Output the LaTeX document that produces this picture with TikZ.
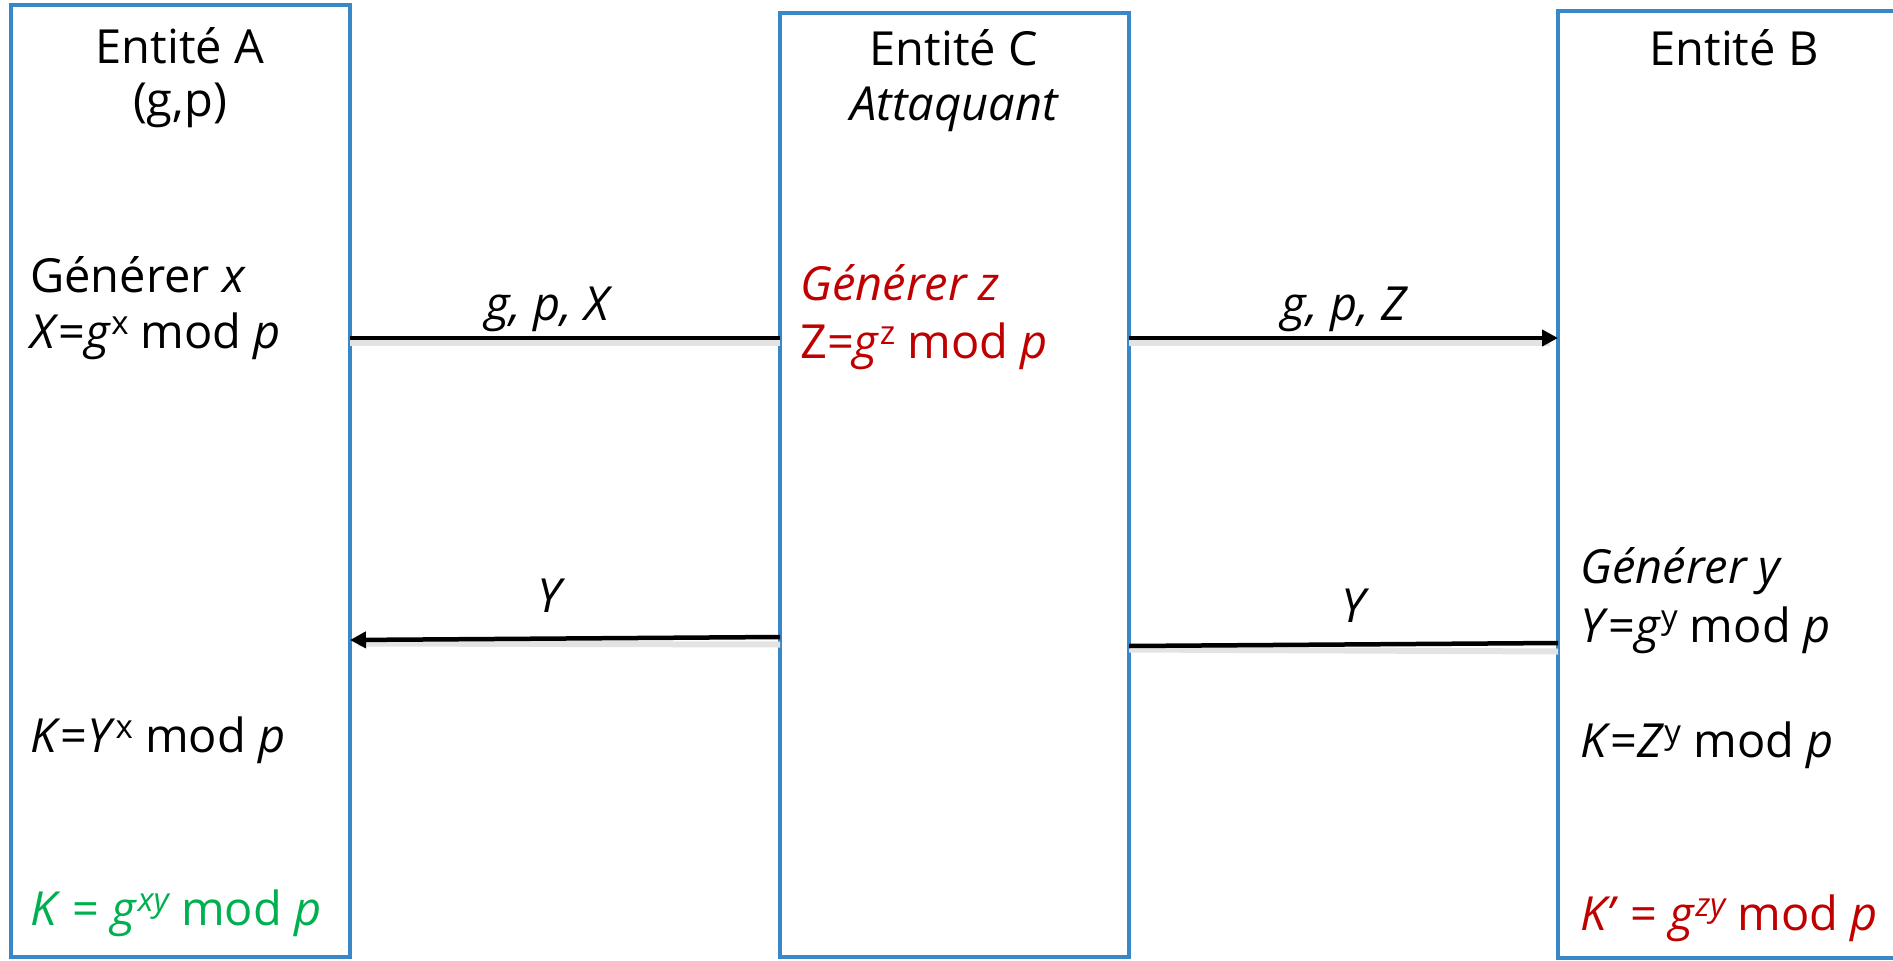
\documentclass[tikz,border=0pt]{standalone}
\usepackage{fontspec}
\setmainfont{Open Sans}
\usetikzlibrary{arrows.meta}
\definecolor{boxblue}{RGB}{58,135,200}
\definecolor{attred}{RGB}{192,0,0}
\definecolor{keygreen}{RGB}{0,176,80}
\tikzset{
  ent/.style={draw=boxblue, line width=4pt, rectangle, inner sep=0pt, outer sep=0pt},
  txt/.style={font=\fontsize{47}{56}\selectfont, inner sep=0pt, anchor=base west},
  ctxt/.style={font=\fontsize{47}{56}\selectfont, inner sep=0pt, anchor=base},
  msg/.style={line width=4.5pt, black},
  shadow/.style={line width=6pt, gray!22},
  tip/.style={-{Triangle[length=16pt,width=16pt]}}
}
\newcommand{\sups}[1]{\raisebox{0.55ex}{\fontsize{33}{33}\selectfont #1}}
\begin{document}
\begin{tikzpicture}[x=1pt,y=-1pt]
\useasboundingbox (0,0) rectangle (1893,961);
% boxes
\node[ent, minimum width=339pt, minimum height=952pt] (A) at (180.5,481) {};
\node[ent, minimum width=349pt, minimum height=944pt] (C) at (954.5,485) {};
\node[ent, minimum width=352pt, minimum height=947pt] (B) at (1734,484.5) {};
% helper levels
\coordinate (m1) at (0,338);
\coordinate (m2) at (0,638.5);
\coordinate (m3) at (0,644.5);
% titles
\node[ctxt] (tA1) at (180,63) {Entité A};
\node[ctxt] (tA2) at (180,116) {(g,p)};
\node[ctxt] (tC1) at (954,65) {Entité C};
\node[ctxt] (tC2) at (954,120) {\itshape Attaquant};
\node[ctxt] (tB1) at (1734,65) {Entité B};
% A texts
\node[txt] (a1) at (30,292) {Générer \textit{x}};
\node[txt] (a2) at (30,348) {\textit{X}=\textit{g}\sups{x} mod \textit{p}};
\node[txt] (a3) at (30,752) {\textit{K}=\textit{Y}\sups{x} mod \textit{p}};
\node[txt, text=keygreen] (a4) at (30,925) {\textit{K} = \textit{g}\sups{\itshape xy} mod \textit{p}};
% C texts
\node[txt, text=attred] (c1) at (800,300) {\itshape Générer z};
\node[txt, text=attred] (c2) at (800,358) {Z=\textit{g}\sups{z} mod \textit{p}};
% B texts
\node[txt] (b1) at (1580,583) {\itshape Générer y};
\node[txt] (b2) at (1580,642) {\textit{Y}=\textit{g}\sups{y} mod \textit{p}};
\node[txt] (b3) at (1580,757) {\textit{K}=\textit{Z}\sups{y} mod \textit{p}};
\node[txt, text=attred] (b4) at (1580,930) {\textit{K’} = \textit{g}\sups{\itshape zy} mod \textit{p}};
% messages (shadows)
\draw[shadow] ([yshift=-5pt]A.east |- m1) -- ([yshift=-5pt]C.west |- m1);
\draw[shadow] ([yshift=-5pt]C.east |- m1) -- ([yshift=-5pt,xshift=-8pt]B.west |- m1);
\draw[shadow] ([yshift=-5pt,xshift=8pt]A.east |- m2) -- ([yshift=-6pt]C.west |- m2);
\draw[shadow] ([yshift=-5pt]C.east |- m3) -- ([yshift=-7pt]B.west |- m3);
% messages
\draw[msg] (A.east |- m1) -- (C.west |- m1);
\draw[msg, tip] (C.east |- m1) -- (B.west |- m1);
\draw[msg, tip] ([yshift=1.5pt]C.west |- m2) -- ([yshift=-1.5pt]A.east |- m2);
\draw[msg] ([yshift=1.5pt]B.west |- m3) -- ([yshift=-1.5pt]C.east |- m3);
% message labels
\node[ctxt] (l1) at (547,320) {\itshape g, p, X};
\node[ctxt] (l2) at (1344,320) {\itshape g, p, Z};
\node[ctxt] (l3) at (549,612) {\itshape Y};
\node[ctxt] (l4) at (1353,622) {\itshape Y};
\end{tikzpicture}
\end{document}
